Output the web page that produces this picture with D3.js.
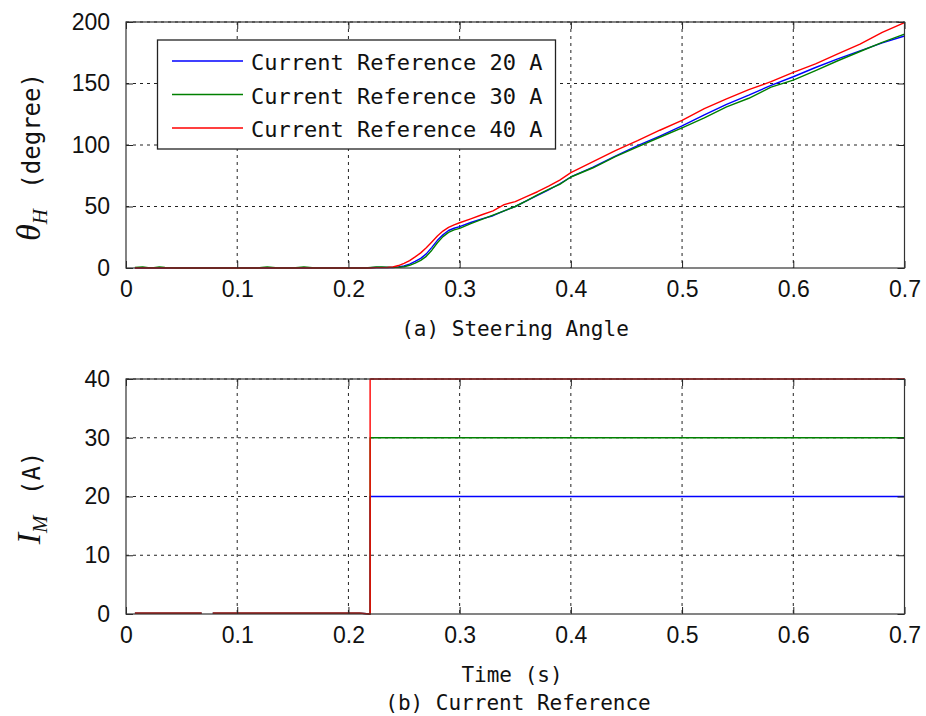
<!DOCTYPE html>
<html><head><meta charset="utf-8">
<script src="https://cdn.jsdelivr.net/npm/d3@7"></script>
<style>body{margin:0;background:#fff}</style>
</head><body>
<svg id="c" width="926" height="716"></svg>
<script>
// ---------- data ----------
const timeTop = [0.008,0.015,0.020,0.025,0.030,0.035,0.040,0.045,0.118,0.122,0.127,0.132,0.137,0.150,0.155,0.160,0.165,0.170,0.215,0.220,0.225,0.230,0.235,
  0.240,0.245,0.250,0.255,0.260,0.265,0.270,0.275,0.280,0.285,0.290,0.295,0.300,
  0.31,0.32,0.33,0.34,0.35,0.36,0.37,0.38,0.39,0.40,0.42,0.44,0.46,0.48,0.50,0.52,0.54,0.56,0.58,0.60,0.62,0.64,0.66,0.68,0.70];
const angle20 = [0,0,0,0,0,0,0,0,0,0,0,0,0,0,0,0,0,0,0,0.2,0.4,0.4,0.4,
  0.4,0.8,1.6,3.2,5.3,7.8,11.5,16.8,22.5,27,30.5,32.3,33.6,
  37,40,42.5,46.5,50,54.5,59,63.5,68.5,74,82,91,99.5,107.3,115.5,124.5,133,140.5,148.5,155.5,163,170,176.5,183,188.6];
const angle30 = [0.4,0.9,0.3,0.3,0.9,0.4,0.3,0,0,0.4,0.9,0.4,0,0,0.4,0.9,0.4,0,0,0.5,0.9,0.9,0.7,
  0.5,0.6,1.0,2.2,4.0,6.2,9.5,14.5,20.5,25.5,29,31,32.2,
  36,39.5,43,46.5,50,54.5,59.5,64,68,74,81.5,90.5,98.5,106.3,114,122,131,138,147,152.8,160.5,168.5,176,183.5,190.2];
const angle40 = [0,0,0,0,0,0,0,0,0,0,0,0,0,0,0,0,0,0,0,0,0.3,0.3,0.4,
  0.8,2.0,3.8,6.0,9.0,12.3,16.5,21.2,26,30,33,35,36.8,
  40,43.3,46.5,51.5,54,58,62,66.5,71.5,77.5,86.5,95.5,103.5,112,120,129.5,137.5,145,151.5,159,166,174,182,191.5,199.5];

const timeBottom = [0.008,0.068,0.073,0.078,0.210,0.2195,0.2195,0.700];
const current20 = [0.15,0.15,null,0.15,0.15,0,20,20];
const current30 = [0.15,0.15,null,0.15,0.15,0,30,30];
const current40 = [0.15,0.15,null,0.15,0.15,0,40,40];

const seriesNames = ["Current Reference 20 A","Current Reference 30 A","Current Reference 40 A"];
const seriesColors = ["#0000ff","#008000","#ff0000"];
const xTicks = [0,0.1,0.2,0.3,0.4,0.5,0.6,0.7];
const xTickLabels = ["0","0.1","0.2","0.3","0.4","0.5","0.6","0.7"];
const yTicksTop = [0,50,100,150,200];
const yTicksBottom = [0,10,20,30,40];

// ---------- drawing ----------
const svg = d3.select("#c");
const L = 126, R = 904.5;
const tickFont = "'Liberation Sans', Arial, sans-serif";
const monoFont = "'DejaVu Sans Mono', 'Liberation Mono', monospace";

function panel(top, bottom, yMax, yTicks, time, seriesList) {
  const x = d3.scaleLinear().domain([0, 0.7]).range([L, R]);
  const y = d3.scaleLinear().domain([0, yMax]).range([bottom, top]);
  const g = svg.append("g");
  // grid
  g.selectAll(".gx").data(xTicks.slice(1)).enter().append("line")
    .attr("x1", d => x(d)).attr("x2", d => x(d)).attr("y1", top).attr("y2", bottom)
    .attr("stroke", "#222").attr("stroke-width", 1).attr("stroke-dasharray", "3,4");
  g.selectAll(".gy").data(yTicks.slice(1)).enter().append("line")
    .attr("x1", L).attr("x2", R).attr("y1", d => y(d)).attr("y2", d => y(d))
    .attr("stroke", "#222").attr("stroke-width", 1).attr("stroke-dasharray", "3,4");
  // series
  const line = d3.line().defined(d => d[1] !== null).x(d => x(d[0])).y(d => y(d[1]));
  seriesList.forEach((vals, i) => {
    g.append("path").datum(time.map((t, k) => [t, vals[k]]))
      .attr("d", line).attr("fill", "none")
      .attr("stroke", seriesColors[i]).attr("stroke-width", 1.4).attr("stroke-linejoin", "round");
  });
  // axes with inward ticks
  const ax = g.append("g").attr("transform", `translate(0,${bottom})`)
    .call(d3.axisBottom(x).tickValues(xTicks).tickFormat((d, i) => xTickLabels[i]).tickSizeInner(-7).tickSizeOuter(0).tickPadding(13));
  const axTop = g.append("g").attr("transform", `translate(0,${top})`)
    .call(d3.axisTop(x).tickValues(xTicks).tickFormat("").tickSizeInner(-7).tickSizeOuter(0));
  const ay = g.append("g").attr("transform", `translate(${L},0)`)
    .call(d3.axisLeft(y).tickValues(yTicks).tickSizeInner(-7).tickSizeOuter(0).tickPadding(16));
  const ayR = g.append("g").attr("transform", `translate(${R},0)`)
    .call(d3.axisRight(y).tickValues(yTicks).tickFormat("").tickSizeInner(-7).tickSizeOuter(0));
  [ax, axTop, ay, ayR].forEach(a => {
    a.select(".domain").remove();
    a.selectAll("line").attr("stroke", "#222");
    a.selectAll("text").attr("font-family", tickFont).attr("font-size", 23).attr("fill", "#111");
  });
  ax.selectAll("text").attr("dy", "0.71em");
  // box
  g.append("rect").attr("x", L).attr("y", top).attr("width", R - L).attr("height", bottom - top)
    .attr("fill", "none").attr("stroke", "#333").attr("stroke-width", 1.2);
  return {x, y, g};
}

const p1 = panel(22, 268, 200, yTicksTop, timeTop, [angle20, angle30, angle40]);
const p2 = panel(379, 614, 40, yTicksBottom, timeBottom, [current20, current30, current40]);

// legend
const lg = svg.append("g");
lg.append("rect").attr("x", 157.5).attr("y", 40).attr("width", 398).attr("height", 109)
  .attr("fill", "#fff").attr("stroke", "#222").attr("stroke-width", 1.3);
const rowsY = [61, 94.5, 128];
seriesNames.forEach((n, i) => {
  lg.append("line").attr("x1", 172).attr("x2", 243).attr("y1", rowsY[i]).attr("y2", rowsY[i])
    .attr("stroke", seriesColors[i]).attr("stroke-width", 1.4);
  lg.append("text").attr("x", 251).attr("y", rowsY[i] + 9).text(n)
    .attr("font-family", monoFont).attr("font-size", 22).attr("fill", "#111");
});

// axis labels
svg.append("text").attr("x", 515).attr("y", 336).attr("text-anchor", "middle")
  .attr("font-family", monoFont).attr("font-size", 21).attr("fill", "#111").text("(a) Steering Angle");
svg.append("text").attr("x", 512).attr("y", 682).attr("text-anchor", "middle")
  .attr("font-family", monoFont).attr("font-size", 21).attr("fill", "#111").text("Time (s)");
svg.append("text").attr("x", 518).attr("y", 710).attr("text-anchor", "middle")
  .attr("font-family", monoFont).attr("font-size", 21).attr("fill", "#111").text("(b) Current Reference");

// y labels
const yl1 = svg.append("text").attr("transform", "translate(40,157) rotate(-90)")
  .attr("text-anchor", "middle").attr("fill", "#111");
yl1.append("tspan").attr("font-family", "'Liberation Serif', serif").attr("font-style", "italic").attr("font-size", 34).text("θ");
yl1.append("tspan").attr("font-family", "'Liberation Serif', serif").attr("font-style", "italic").attr("font-size", 21).attr("dy", 7).text("H");
yl1.append("tspan").attr("font-family", monoFont).attr("font-size", 24).attr("dy", -7).attr("dx", 6).text(" (degree)");

const yl2 = svg.append("text").attr("transform", "translate(40,498) rotate(-90)")
  .attr("text-anchor", "middle").attr("fill", "#111");
yl2.append("tspan").attr("font-family", "'Liberation Serif', serif").attr("font-style", "italic").attr("font-size", 34).text("I");
yl2.append("tspan").attr("font-family", "'Liberation Serif', serif").attr("font-style", "italic").attr("font-size", 21).attr("dy", 7).text("M");
yl2.append("tspan").attr("font-family", monoFont).attr("font-size", 24).attr("dy", -7).attr("dx", 6).text(" (A)");
</script>
</body></html>
